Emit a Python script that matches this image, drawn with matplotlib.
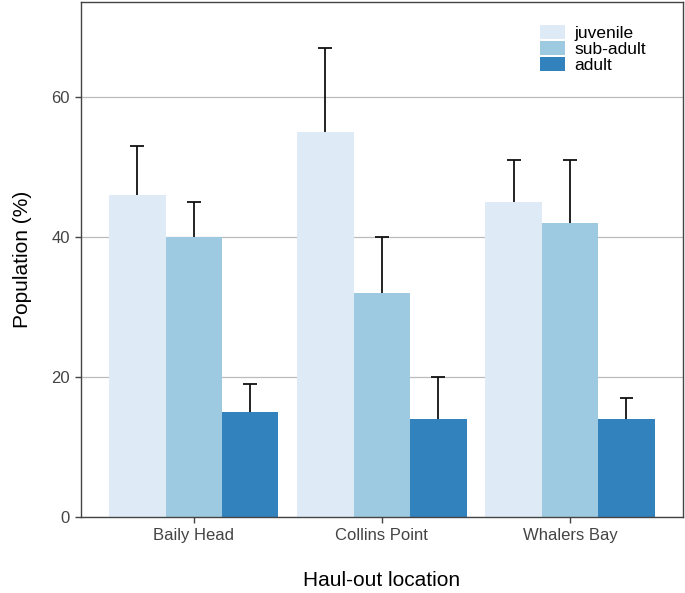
import matplotlib
matplotlib.use("Agg")
import matplotlib.pyplot as plt
import numpy as np

plt.rcParams['font.family'] = ['Liberation Sans', 'DejaVu Sans']

locations = ["Baily Head", "Collins Point", "Whalers Bay"]
stages = ["juvenile", "sub-adult", "adult"]
means = {
    "juvenile": [46, 55, 45],
    "sub-adult": [40, 32, 42],
    "adult": [15, 14, 14],
}
upper = {
    "juvenile": [53, 67, 51],
    "sub-adult": [45, 40, 51],
    "adult": [19, 20, 17],
}
colors = ["#deebf7", "#9ecae1", "#3182bd"]

fig = plt.figure(figsize=(6.85, 5.93), dpi=100)
ax = fig.add_axes([0.118, 0.128, 0.879, 0.869])

x = np.arange(len(locations))
w = 0.3
cap = 0.037
for i, s in enumerate(stages):
    pos = x + (i - 1) * w
    ax.bar(pos, means[s], width=w, color=colors[i], label=s, zorder=2)
    # upper error only
    ax.vlines(pos, means[s], upper[s], color='#111111', linewidth=1.3, zorder=3)
    ax.hlines(upper[s], pos - cap, pos + cap, color='#111111', linewidth=1.3, zorder=3)

ax.set_xlim(-0.6, 2.6)
ax.set_ylim(0, 73.6)
ax.set_yticks([0, 20, 40, 60])
ax.set_xticks(x)
ax.set_xticklabels(locations)
ax.yaxis.grid(True, color='#bbbbbb', linewidth=0.9, zorder=0)
ax.set_axisbelow(True)
for sp in ax.spines.values():
    sp.set_color('#444444')
    sp.set_linewidth(1.0)
ax.tick_params(axis='both', length=4, width=1.0, color='#444444',
               labelsize=12, labelcolor='#444444', pad=4)
ax.set_xlabel("Haul-out location", fontsize=15, labelpad=20)
ax.set_ylabel("Population (%)", fontsize=15, labelpad=14)

ax.legend(loc='upper left', bbox_to_anchor=(0.762, 0.955), frameon=False,
          fontsize=12.5, handlelength=1.45, handleheight=0.85, labelspacing=0.0,
          handletextpad=0.55, borderaxespad=0.0, borderpad=0.0)

fig.savefig("out.png", dpi=100)
